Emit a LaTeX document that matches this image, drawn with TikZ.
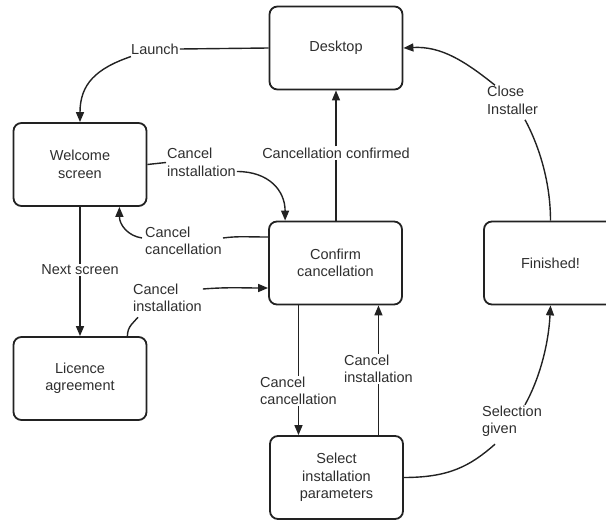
\documentclass[tikz,border=0pt]{standalone}
\usepackage{fontspec}
\setmainfont{Liberation Sans}
\usetikzlibrary{arrows.meta,calc}
\definecolor{ink}{HTML}{222222}
\definecolor{txt}{HTML}{2E2E2E}
\tikzset{
  box/.style={draw=ink, line width=1.8pt, rounded corners=8pt, minimum width=133pt, minimum height=83pt, align=center, text=txt, font=\fontsize{14.5}{17.5}\selectfont, inner sep=2pt},
  lbl/.style={text=txt, font=\fontsize{14.5}{17.5}\selectfont, align=left, inner sep=1pt},
  conn/.style={draw=ink, line width=1.4pt},
  arr/.style={conn, -{Triangle[length=10pt,width=8pt]}}
}
\begin{document}
\begin{tikzpicture}[x=1pt,y=-1pt]
\useasboundingbox (0,0) rectangle (606,524);
\clip (0,0) rectangle (606,524);
% states
\node[box] (desk) at (336,48) {Desktop};
\node[box] (welc) at (80,164.5) {Welcome\\screen};
\node[box] (conf) at (335.5,263) {Confirm\\cancellation};
\node[box] (lic) at (80,378.5) {Licence\\agreement};
\node[box] (sel) at (336.5,477.5) {Select\\installation\\parameters};
\node[box] (fin) at (550.5,263) {Finished!};
% labels
\node[lbl, anchor=west] (launch) at (130,49) {Launch};
\node[lbl, anchor=west] (canc1) at (166,162.5) {Cancel\\installation};
\node[lbl, anchor=west] (canc2) at (144,241) {Cancel\\cancellation};
\node[lbl] (next) at (80,270) {Next screen};
\node[lbl, anchor=west] (canc3) at (132,298) {Cancel\\installation};
\node[lbl, anchor=west] (canc4) at (259,391) {Cancel\\cancellation};
\node[lbl, anchor=west] (canc5) at (343,369) {Cancel\\installation};
\node[lbl] (confirmed) at (336,153) {Cancellation confirmed};
\node[lbl, anchor=west] (selgiven) at (481,421.5) {Selection\\given};
\node[lbl, anchor=west] (closeinst) at (486,100.5) {Close\\Installer};
% connectors
% Launch
\draw[conn] (desk.west) -- (launch.east);
\draw[arr] ($(launch.south west)+(1,1)$) .. controls +(-35,12) and +(0,-38) .. (welc.north);
% Welcome -> Confirm
\draw[conn] (welc.east) -- (canc1.west);
\draw[arr] ($(canc1.east)+(0,9)$) .. controls +(32,0) and +(0,-30) .. ($(conf.north west)+(17,0)$);
% Confirm -> Welcome
\draw[conn] ($(conf.west)+(0,-26)$) .. controls +(-22,0) and +(15,-2) .. ($(canc2.east)+(0,-3)$);
\draw[arr] ($(canc2.west)+(-2,-3)$) .. controls +(-14,-2) and +(0,18) .. ($(welc.south east)+(-28,0)$);
% Welcome -> Licence
\draw[conn] (welc.south) -- (next.north);
\draw[arr] (next.south) -- (lic.north);
% Licence -> Confirm
\draw[conn] ($(lic.north east)+(-20,0)$) .. controls +(0,-10) and +(-4,5) .. ($(canc3.south west)+(6,4)$);
\draw[arr] ($(canc3.east)+(0,-9)$) .. controls +(25,-2) and +(-25,0) .. ($(conf.west)+(0,25)$);
% Confirm -> Select
\draw[conn] (conf.south -| canc4) -- (canc4.north);
\draw[arr] (canc4.south) -- (sel.north -| canc4);
% Select -> Confirm
\draw[conn] (sel.north -| canc5) -- (canc5.south);
\draw[arr] (canc5.north) -- (conf.south -| canc5);
% Confirm -> Desktop
\draw[conn] (conf.north -| confirmed) -- (confirmed.south);
\draw[arr] (confirmed.north) -- (desk.south -| confirmed);
% Select -> Finished
\draw[conn] (sel.east) .. controls +(45,0) and +(-25,22) .. ($(selgiven.south west)+(14,6)$);
\draw[arr] ($(selgiven.north west)+(44,0)$) .. controls +(14,-25) and +(-2,40) .. (fin.south);
% Finished -> Desktop
\draw[conn] (fin.north) .. controls +(0,-42) and +(12,22) .. ($(closeinst.south west)+(39,4)$);
\draw[arr] ($(closeinst.north west)+(9,0)$) .. controls +(-30,-24) and +(38,-2) .. (desk.east);
\end{tikzpicture}
\end{document}
